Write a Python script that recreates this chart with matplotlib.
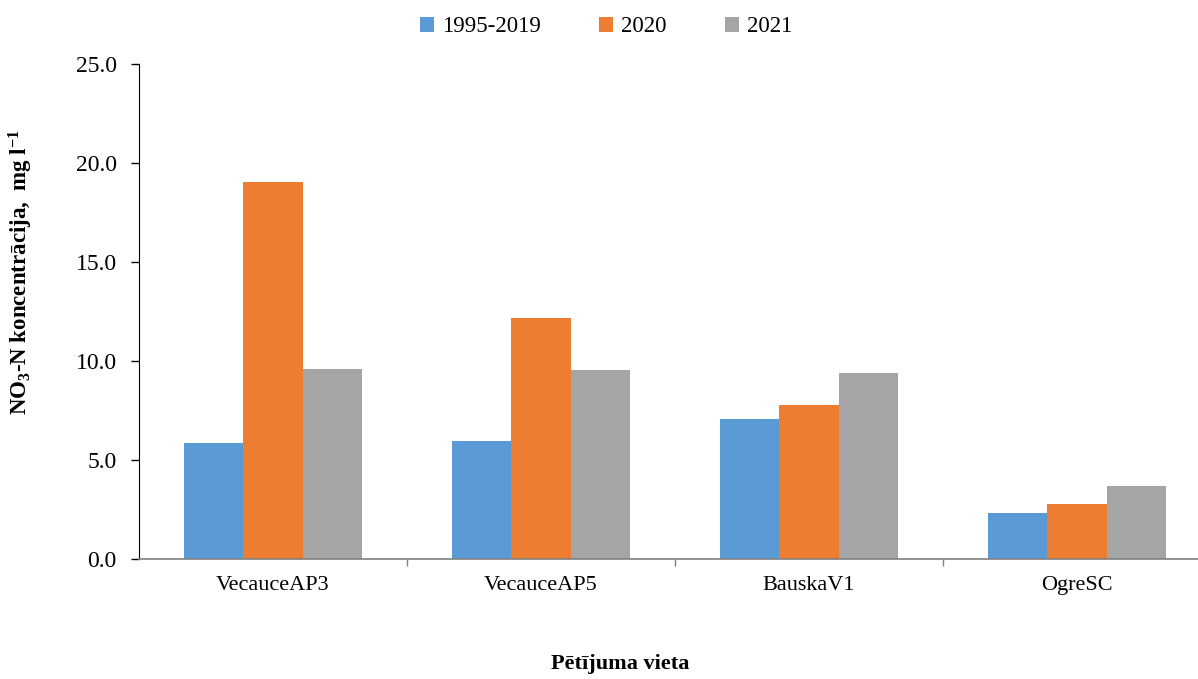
import matplotlib
matplotlib.use("Agg")
import matplotlib.pyplot as plt
import numpy as np

categories = ["VecauceAP3", "VecauceAP5", "BauskaV1", "OgreSC"]
series_names = ["1995-2019", "2020", "2021"]
v_1995_2019 = [5.85, 5.95, 7.07, 2.33]
v_2020 = [19.05, 12.15, 7.78, 2.78]
v_2021 = [9.6, 9.55, 9.4, 3.68]
colors = ["#5B9BD5", "#ED7D31", "#A5A5A5"]
yticks = [0, 5, 10, 15, 20, 25]

plt.rcParams['font.family'] = ['Liberation Serif', 'DejaVu Serif']
plt.rcParams['mathtext.fontset'] = 'custom'
plt.rcParams['mathtext.rm'] = 'Liberation Serif:bold'
plt.rcParams['mathtext.it'] = 'Liberation Serif:bold'
plt.rcParams['mathtext.bf'] = 'Liberation Serif:bold'

W, H = 1198, 679
fig = plt.figure(figsize=(W / 100, H / 100), dpi=100)
left, right_full = 139, 139 + 268 * 4
bottom, top = 559, 64
ax = fig.add_axes([left / W, 1 - bottom / H, (right_full - left) / W, (bottom - top) / H])

x = np.arange(len(categories))
bw = 0.221
data = [v_1995_2019, v_2020, v_2021]
for i, (vals, c, name) in enumerate(zip(data, colors, series_names)):
    ax.bar(x + (i - 1) * bw, vals, width=bw, color=c, label=name, zorder=2)

ax.set_xlim(-0.5, len(categories) - 0.5)
ax.set_ylim(0, 25)
ax.set_yticks(yticks)
ax.set_yticklabels([f"{t:.1f}" for t in yticks], fontsize=17)
ax.set_xticks(x)
ax.set_xticklabels(categories, fontsize=16)
ax.tick_params(axis='x', length=0, pad=12)
ax.set_xticks(np.arange(0.5, len(categories) - 0.5, 1.0), minor=True)
ax.tick_params(axis='x', which='minor', length=5, color='#808080', width=1)
ax.tick_params(axis='y', length=6, width=1, color='black', pad=10)

for s in ['top', 'right']:
    ax.spines[s].set_visible(False)
ax.spines['left'].set_color('black')
ax.spines['bottom'].set_color('#808080')
ax.spines['bottom'].set_linewidth(1.2)

fig.text(21 / W, 1 - 272 / H, r"NO$_{\mathrm{3}}$-N koncentrācija,  mg l$^{\mathrm{-1}}$",
         rotation=90, ha='center', va='center', fontsize=16.5, fontweight='bold')
fig.text(620 / W, 1 - 664 / H, "Pētījuma vieta", ha='center', va='center',
         fontsize=16, fontweight='bold')

handles, labels = ax.get_legend_handles_labels()
fig.legend(handles, labels, loc='center', bbox_to_anchor=(606 / W, 1 - 27 / H),
           ncol=3, frameon=False, fontsize=16.5, handlelength=0.6, handleheight=0.6,
           handletextpad=0.35, columnspacing=2.55)

fig.savefig("out.png", dpi=100)
